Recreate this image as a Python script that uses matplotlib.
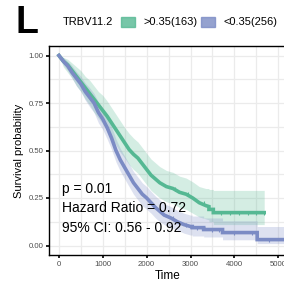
import numpy as np
from matplotlib import pyplot as plt

# KM curves (time, survival, 95% band); tail corners listed twice
t_hi   = [0,100,200,300,400,500,600,700,800,900,1000,1100,1200,1300,1400,1500,1600,1700,1800,1900,
          2000,2100,2200,2300,2450,2600,2750,2900,3050,3200,3350,3420,3420,3520,3520,4680]
s_hi   = [1.0,0.97,0.95,0.92,0.89,0.86,0.83,0.80,0.77,0.74,0.71,0.68,0.645,0.61,0.575,0.54,0.505,0.48,0.46,0.43,
          0.40,0.37,0.35,0.33,0.31,0.30,0.28,0.27,0.25,0.225,0.21,0.205,0.19,0.19,0.173,0.173]
lo_hi  = [1.0,0.94,0.91,0.88,0.84,0.81,0.77,0.74,0.70,0.67,0.64,0.60,0.565,0.53,0.49,0.46,0.425,0.40,0.38,0.35,
          0.32,0.29,0.27,0.25,0.23,0.22,0.20,0.19,0.17,0.15,0.14,0.135,0.125,0.125,0.11,0.11]
up_hi  = [1.0,0.99,0.98,0.96,0.94,0.92,0.89,0.87,0.84,0.81,0.79,0.76,0.725,0.69,0.655,0.62,0.59,0.565,0.545,0.515,
          0.485,0.455,0.435,0.415,0.395,0.385,0.365,0.355,0.335,0.31,0.30,0.30,0.295,0.295,0.29,0.29]

t_lo   = [0,100,200,300,400,500,600,700,800,900,1000,1100,1200,1300,1400,1500,1600,1700,1800,1900,
          2000,2100,2200,2300,2400,2550,2700,2850,3000,3040,3040,3300,3300,3730,3730,4520,4520,5500]
s_lo   = [1.0,0.97,0.945,0.91,0.88,0.85,0.81,0.78,0.75,0.70,0.665,0.62,0.565,0.50,0.45,0.41,0.37,0.33,0.30,0.27,
          0.25,0.225,0.20,0.18,0.16,0.145,0.125,0.11,0.10,0.10,0.094,0.094,0.084,0.084,0.068,0.068,0.031,0.031]
lo_lo  = [1.0,0.95,0.92,0.88,0.84,0.81,0.765,0.73,0.70,0.645,0.61,0.56,0.505,0.44,0.39,0.35,0.31,0.27,0.24,0.21,
          0.19,0.17,0.145,0.125,0.11,0.095,0.08,0.065,0.055,0.055,0.05,0.05,0.045,0.045,0.03,0.03,0.01,0.01]
up_lo  = [1.0,0.99,0.97,0.945,0.915,0.89,0.855,0.83,0.80,0.755,0.72,0.68,0.625,0.56,0.51,0.47,0.43,0.39,0.36,0.33,
          0.31,0.285,0.26,0.24,0.22,0.205,0.185,0.17,0.16,0.16,0.155,0.155,0.145,0.145,0.13,0.13,0.10,0.10]

cens_hi = [2650,2950,3300,3700,3900,4100,4300,4500,4680]
cens_lo = [2600,2900,3150,3500,3650,4000,4400,4800]

green = '#55b893'
blue  = '#7b8bc4'

plt.rcParams['font.family'] = ['Liberation Sans','DejaVu Sans']

fig = plt.figure(figsize=(2.84,2.82), dpi=100)
ax = fig.add_axes([49/284, 27/282, 238/284, 209/282])

for t,s,lo,up,c in [(t_hi,s_hi,lo_hi,up_hi,green),(t_lo,s_lo,lo_lo,up_lo,blue)]:
	ax.fill_between(t, lo, up, color=c, alpha=0.25, lw=0)
	ax.plot(t, s, color=c, lw=2.6, solid_joinstyle='miter')

for tc,t,s,c in [(cens_hi,t_hi,s_hi,green),(cens_lo,t_lo,s_lo,blue)]:
	idx = np.searchsorted(t, tc, side='right')-1
	ax.plot(tc, np.array(s)[idx], ls='none', marker='|', ms=3.5, mew=0.8, color=c)

ax.set_xlim(-227, 5200)
ax.set_ylim(-0.05, 1.05)
ax.set_xticks([0,1000,2000,3000,4000,5000])
ax.set_yticks([0,0.25,0.5,0.75,1.0])
ax.set_yticklabels(['0.00','0.25','0.50','0.75','1.00'])
ax.set_xticks(np.arange(500,5500,1000), minor=True)
ax.set_yticks([0.125,0.375,0.625,0.875], minor=True)
ax.grid(which='both', color='#ebebeb', lw=0.9)
ax.set_axisbelow(True)
ax.tick_params(which='major', labelsize=5.6, labelcolor='#4d4d4d', length=2.5, width=1.2, pad=1.5)
ax.tick_params(which='minor', length=0)
for sp in ax.spines.values():
	sp.set_linewidth(1.0)
ax.set_xlabel('Time', fontsize=8.5, labelpad=1.5)
ax.set_ylabel('Survival probability', fontsize=8, labelpad=3)

ax.text(80, 0.30, 'p = 0.01', fontsize=10, va='center')
ax.text(80, 0.195, 'Hazard Ratio = 0.72', fontsize=10, va='center')
ax.text(80, 0.09, '95% CI: 0.56 - 0.92', fontsize=10, va='center')

# legend on top drawn by hand
fig.text(15/284, 1-33/282, 'L', fontsize=27, fontweight='bold')
fig.text(63/284, 1-22/282, 'TRBV11.2', fontsize=8, va='center')
fig.patches.append(plt.Rectangle((121/284,1-27/282), 14/284, 10/282, transform=fig.transFigure, color=green, alpha=0.8))
fig.text(143/284, 1-22/282, '>0.35(163)', fontsize=8, va='center')
fig.patches.append(plt.Rectangle((201/284,1-27/282), 14/284, 10/282, transform=fig.transFigure, color=blue, alpha=0.8))
fig.text(223/284, 1-22/282, '<0.35(256)', fontsize=8, va='center')

plt.savefig('out.png', dpi=100)
